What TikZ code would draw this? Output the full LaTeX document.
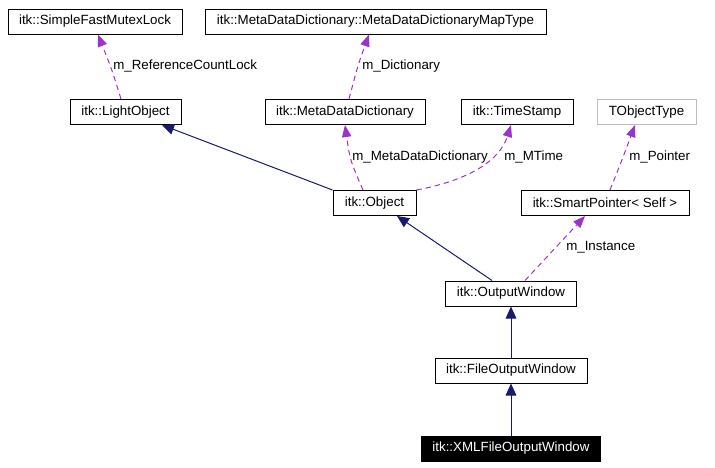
\documentclass[tikz,border=0pt]{standalone}
\usepackage{fontspec}
\setmainfont{Liberation Sans}
\usetikzlibrary{arrows.meta,calc}
\definecolor{edgenavy}{HTML}{191970}
\definecolor{edgepurple}{HTML}{9A32CD}
\definecolor{boxgray}{HTML}{BFBFBF}
\begin{document}
\begin{tikzpicture}[x=0.75pt,y=-0.75pt,
  font=\fontsize{10pt}{12pt}\selectfont,
  cls/.style={draw=black, line width=0.75pt, inner sep=0pt, minimum height=18.75pt, minimum width=#1*0.75pt},
  inh/.style={draw=edgenavy, line width=0.75pt, -{Triangle[length=9pt,width=8pt]}},
  use/.style={draw=edgepurple, line width=0.75pt, dash pattern=on 4pt off 3pt, -{Triangle[length=9pt,width=7pt]}},
  lbl/.style={anchor=west, inner sep=0pt}]
\useasboundingbox (0,0) rectangle (715,468);

% classes
\node[cls=174] (mutex) at (95,21.5) {itk::SimpleFastMutexLock};
\node[cls=341] (maptype) at (375.5,21.5) {itk::MetaDataDictionary::MetaDataDictionaryMapType};
\node[cls=111] (light) at (125.5,112) {itk::LightObject};
\node[cls=160] (mdd) at (345,112) {itk::MetaDataDictionary};
\node[cls=112] (ts) at (517,112) {itk::TimeStamp};
\node[cls=99, draw=boxgray] (tot) at (646.5,112) {TObjectType};
\node[cls=83] (obj) at (374.5,203) {itk::Object};
\node[cls=168] (sp) at (605,203) {itk::SmartPointer\textless{} Self \textgreater};
\node[cls=131] (ow) at (511,293.5) {itk::OutputWindow};
\node[cls=152] (fow) at (511,370.5) {itk::FileOutputWindow};
\node[cls=179, fill=black, text=white] (xml) at (511,448.5) {itk::XMLFileOutputWindow};

% usage (dashed) relations
\draw[use] ($(light.north)+(-4.5,0)$) .. controls (112,70) .. ($(mutex.south)+(3,0)$);
\node[lbl] (l1) at (113,66) {m\_ReferenceCountLock};

\draw[use] ($(mdd.north)+(4,0)$) .. controls (358,65) .. ($(maptype.south)+(-6.5,0)$);
\node[lbl] (l2) at (362,66) {m\_Dictionary};

\draw[use] ($(obj.north)+(-11.5,0)$) .. controls (350,160) .. (mdd.south);
\node[lbl] (l3) at (352,157) {m\_MetaDataDictionary};

\draw[use] (obj.north east) .. controls (470,180) and (500,160) .. ($(ts.south)+(-6,0)$);
\node[lbl] (l4) at (504,157) {m\_MTime};

\draw[use] ($(sp.north)+(5,0)$) .. controls (622,160) .. ($(tot.south)+(-11.5,0)$);
\node[lbl] (l5) at (629,157) {m\_Pointer};

\draw[use] ($(ow.north)+(14,0)$) -- ($(sp.south)+(-20,0)$);
\node[lbl] (l6) at (566,247) {m\_Instance};

% inheritance relations
\draw[inh] (obj.north west) -- ($(light.south)+(36.5,0)$);
\draw[inh] ($(ow.north)+(-19,0)$) -- ($(obj.south)+(22.5,0)$);
\draw[inh] (fow.north) -- (ow.south);
\draw[inh] (xml.north) -- (fow.south);
\end{tikzpicture}
\end{document}
